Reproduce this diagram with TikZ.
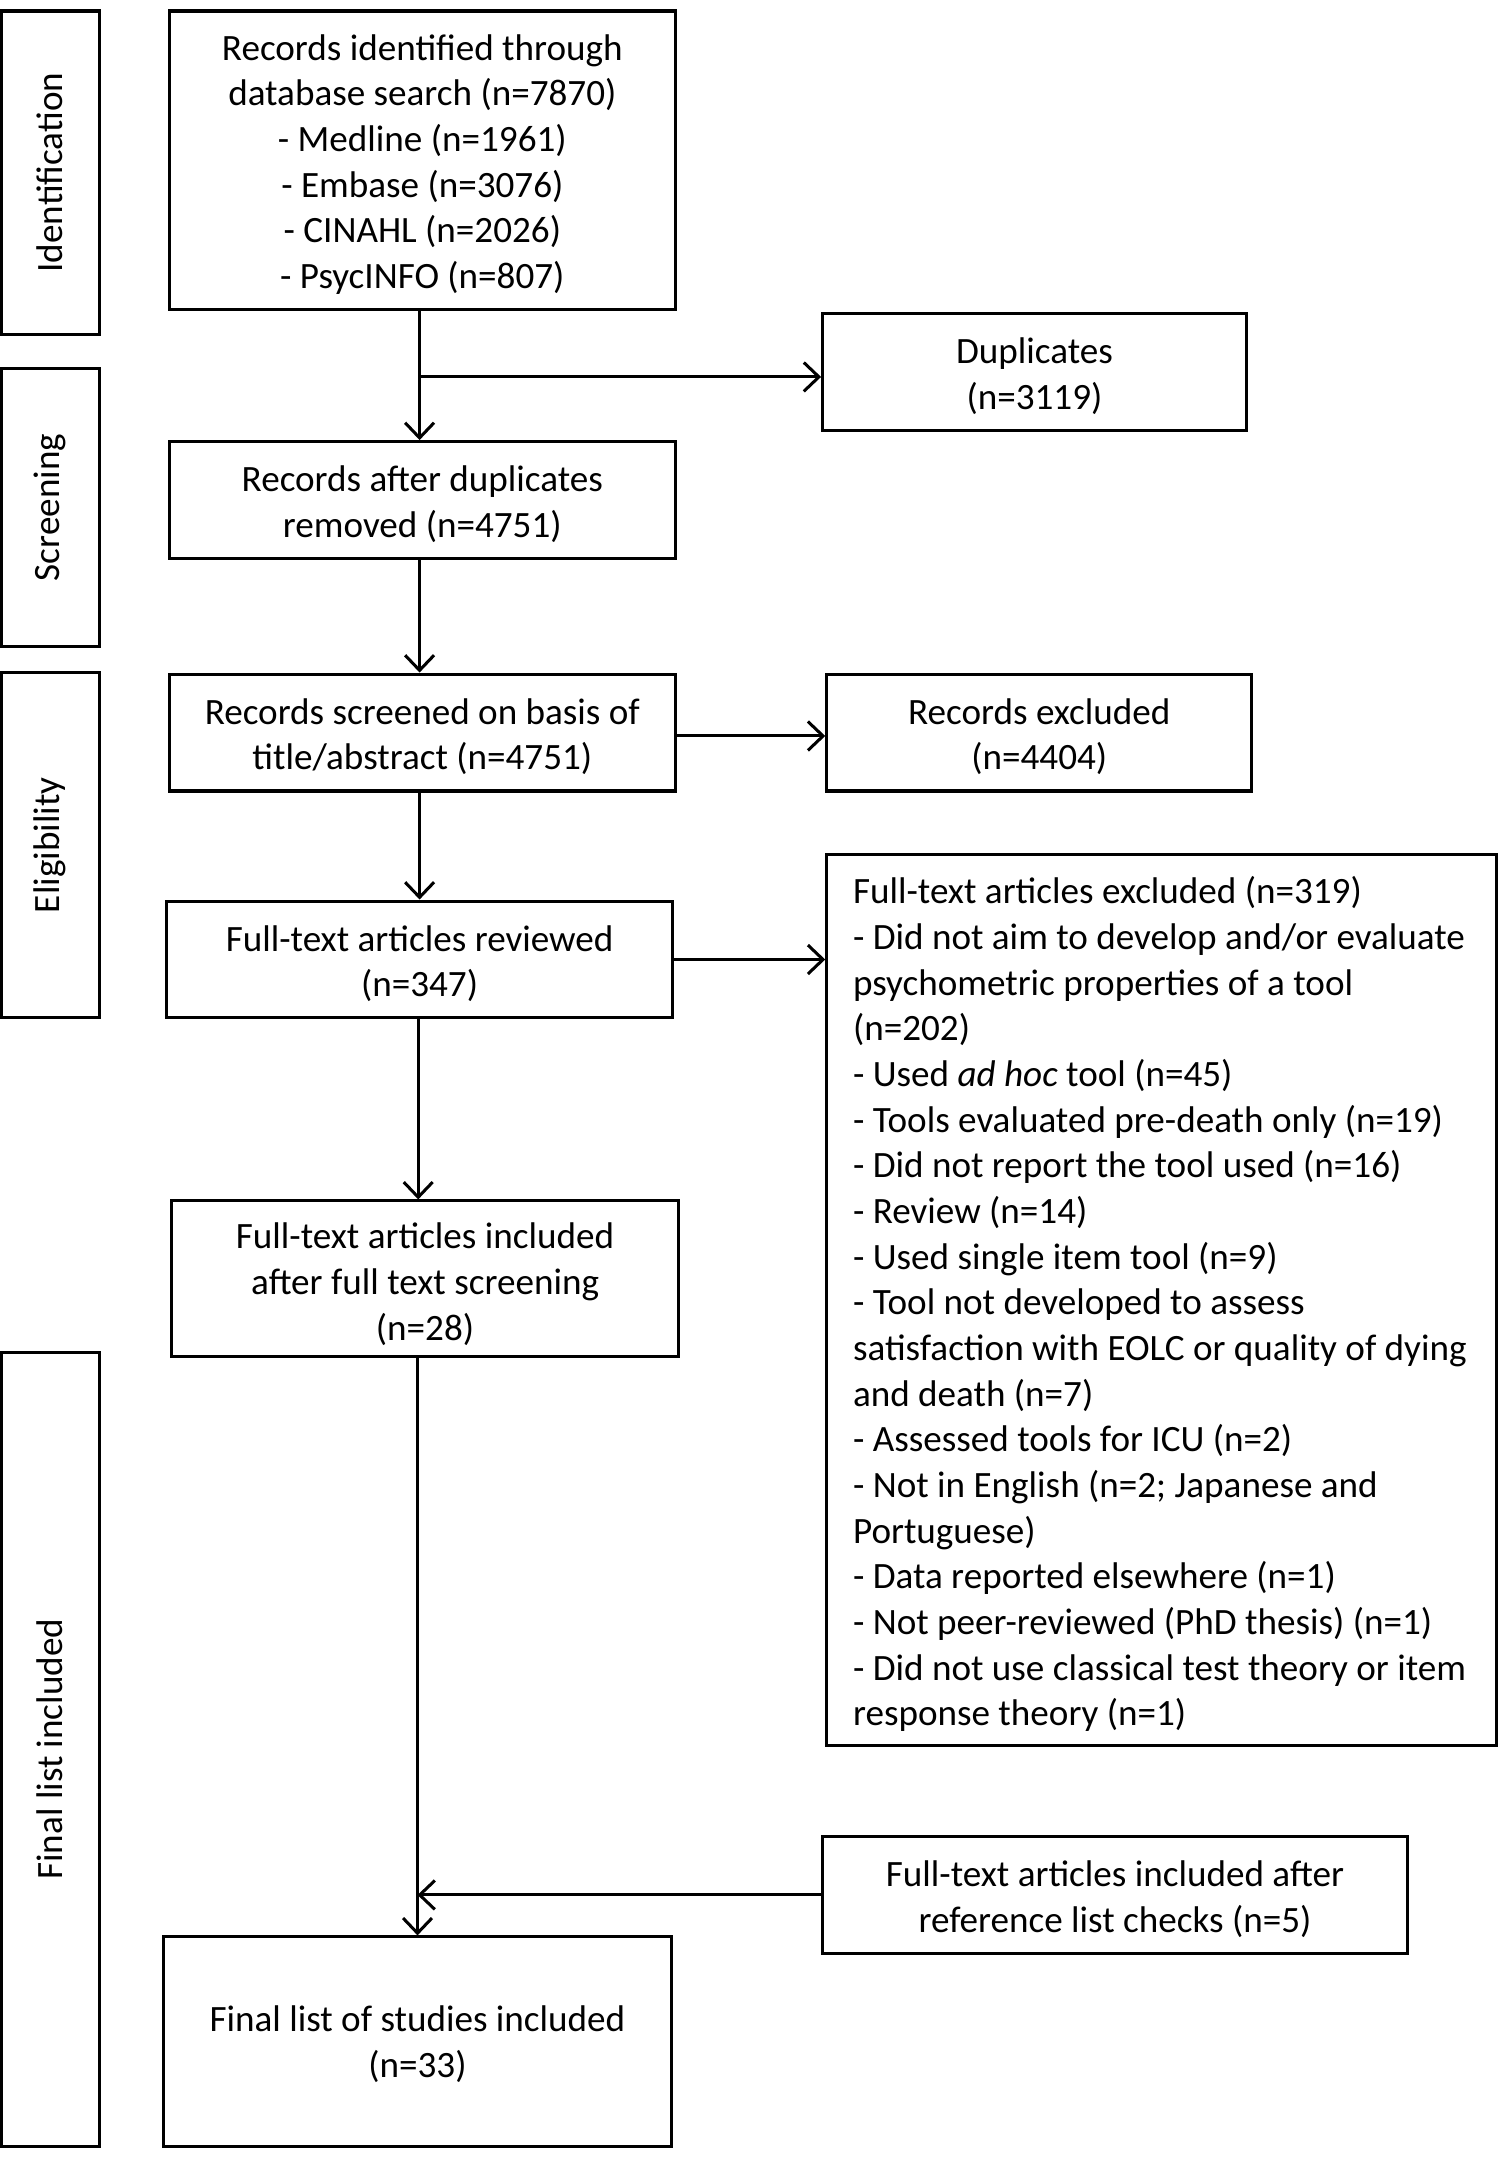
\documentclass[tikz,border=0pt]{standalone}
\usepackage{fontspec}
\setmainfont{Carlito}
\usetikzlibrary{arrows.meta}
\begin{document}
\begin{tikzpicture}[x=1pt,y=-1pt,
  every node/.style={font=\fontsize{27pt}{33.2pt}\selectfont, inner sep=0pt},
  box/.style={draw, line width=2.2pt, rectangle},
  txt/.style={align=center},
  side/.style={draw, line width=2.2pt, rectangle, rotate=90, minimum height=71pt},
  arr/.style={line width=2.2pt, -{Straight Barb[length=11pt,width=21pt,line width=2.2pt]}}]
\useasboundingbox (0,0) rectangle (1092,1568);
% side labels
\node[side, minimum width=235pt] (sid) at (36.5,125.5) {Identification};
\node[side, minimum width=202pt] (sscr) at (36.5,369) {Screening};
\node[side, minimum width=251pt] (selig) at (36.5,614.5) {Eligibility};
\node[side, minimum width=577pt] (sfin) at (36.5,1271.5) {Final list included};
% main boxes
\node[box, minimum width=368pt, minimum height=217pt] (b1) at (307,116.5) {};
\node[txt] (b1t) at ([yshift=-3pt]b1.center)
 {Records identified through\\database search (n=7870)\\- Medline (n=1961)\\- Embase (n=3076)\\- CINAHL (n=2026)\\- PsycINFO (n=807)};
\node[box, minimum width=308pt, minimum height=85pt] (dup) at (752,270.5) {};
\node[txt] (dupt) at ([yshift=-3pt]dup.center) {Duplicates\\(n=3119)};
\node[box, minimum width=368pt, minimum height=85pt] (b2) at (307,363.5) {};
\node[txt] (b2t) at ([yshift=-3pt]b2.center) {Records after duplicates\\removed (n=4751)};
\node[box, minimum width=368pt, minimum height=85pt] (b3) at (307,532.5) {};
\node[txt] (b3t) at ([yshift=-3pt]b3.center) {Records screened on basis of\\title/abstract (n=4751)};
\node[box, minimum width=309pt, minimum height=85pt] (exc) at (755.5,532.5) {};
\node[txt] (exct) at ([yshift=-3pt]exc.center) {Records excluded\\(n=4404)};
\node[box, minimum width=368pt, minimum height=85pt] (b4) at (305,697.5) {};
\node[txt] (b4t) at ([yshift=-3pt]b4.center) {Full-text articles reviewed\\(n=347)};
\node[box, minimum width=487pt, minimum height=648pt] (big) at (844.5,945) {};
\node[anchor=west, align=left] (bigtext) at ([xshift=20pt,yshift=-3pt]big.west)
 {Full-text articles excluded (n=319)\\
- Did not aim to develop and/or evaluate\\
psychometric properties of a tool\\
(n=202)\\
- Used \textit{ad hoc} tool (n=45)\\
- Tools evaluated pre-death only (n=19)\\
- Did not report the tool used (n=16)\\
- Review (n=14)\\
- Used single item tool (n=9)\\
- Tool not developed to assess\\
satisfaction with EOLC or quality of dying\\
and death (n=7)\\
- Assessed tools for ICU (n=2)\\
- Not in English (n=2; Japanese and\\
Portuguese)\\
- Data reported elsewhere (n=1)\\
- Not peer-reviewed (PhD thesis) (n=1)\\
- Did not use classical test theory or item\\
response theory (n=1)};
\node[box, minimum width=368pt, minimum height=113pt] (b5) at (309,929.5) {};
\node[txt] (b5t) at ([yshift=-4pt]b5.center) {Full-text articles included\\after full text screening\\(n=28)};
\node[box, minimum width=425pt, minimum height=85pt] (ref) at (810.5,1377.5) {};
\node[txt] (reft) at ([yshift=-3pt]ref.center) {Full-text articles included after\\reference list checks (n=5)};
\node[box, minimum width=369pt, minimum height=152pt] (fin) at (303.5,1484) {};
\node[txt] (fint) at ([yshift=-2pt]fin.center) {Final list of studies included\\(n=33)};
% connectors
\coordinate (br) at (b4.north |- 0,274);
\draw[arr] (b1.south -| b4.north) -- (b2.north -| b4.north);
\draw[arr] (br) -- (br -| dup.west);
\draw[arr] (b2.south -| b4.north) -- (b3.north -| b4.north);
\coordinate (br3) at (b3.east |- 0,535);
\draw[arr] (br3) -- (br3 -| exc.west);
\draw[arr] (b3.south -| b4.north) -- (b4.north);
\draw[arr] (b4.east) -- (b4.east -| big.west);
\draw[arr] ([xshift=-1pt]b4.south) -- ([xshift=-1pt]b4.south |- b5.north);
\draw[arr] (fin.north |- b5.south) -- (fin.north);
\draw[arr] (ref.west) -- (ref.west -| fin.north);
\end{tikzpicture}
\end{document}
